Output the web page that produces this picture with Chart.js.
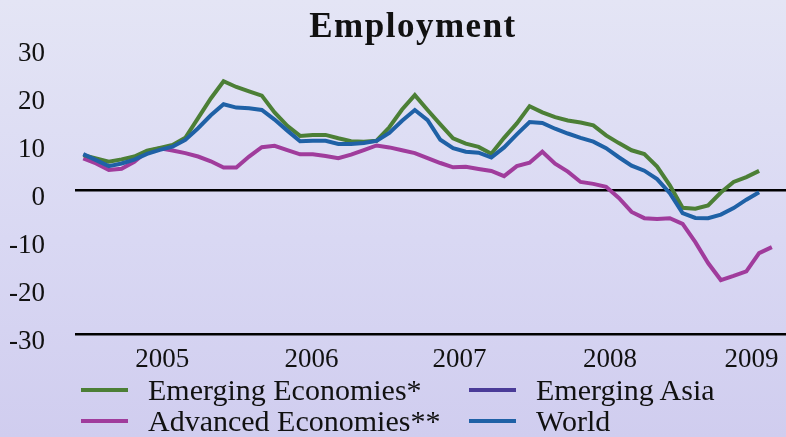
<!DOCTYPE html>
<html>
<head>
<meta charset="utf-8">
<title>Employment</title>
<script src="https://cdn.jsdelivr.net/npm/chart.js@4.4.1/dist/chart.umd.min.js"></script>
<style>
    html, body { margin: 0; padding: 0; }
    body {
        width: 786px; height: 437px; overflow: hidden; position: relative;
        background: linear-gradient(180deg, #e4e5f5 0%, #d9d8f3 55%, #d0cdef 100%);
        font-family: "Liberation Serif", "Times New Roman", serif;
        color: #000;
    }
    #chartBox { position: absolute; left: 0; top: 0; width: 786px; height: 437px; }
    #chartTitle {
        position: absolute; top: 8px; left: 413px; transform: translateX(-50%);
        white-space: nowrap; font-weight: bold; font-size: 35px; line-height: 35px;
        letter-spacing: 1.5px; color: #111;
    }
    #legend {
        position: absolute; left: 81px; top: 374px;
        display: grid; grid-template-columns: 388px auto;
        font-size: 30px; line-height: 31px; color: #111;
    }
    #legend .item { display: flex; align-items: center; white-space: nowrap; }
    #legend .swatch { width: 47px; height: 4px; margin-right: 20px; }
</style>
</head>
<body>
<div id="chartBox"><canvas id="employmentChart"></canvas></div>
<div id="chartTitle">Employment</div>
<div id="legend"></div>

<script>
// Monthly values (%), first point = Jan 2005
const emergingEconomies = [7.3, 6.6, 5.9, 6.4, 7.0, 8.2, 8.8, 9.4, 10.9, 15.0, 19.1, 22.7,
    21.5, 20.6, 19.7, 16.2, 13.4, 11.3, 11.5, 11.5, 10.8, 10.2, 10.1, 10.3,
    13.1, 16.8, 19.8, 16.7, 13.7, 10.8, 9.7, 9.0, 7.6, 10.9, 13.9, 17.5,
    16.2, 15.2, 14.5, 14.1, 13.5, 11.4, 9.8, 8.3, 7.5, 4.9, 1.0, -3.7,
    -3.9, -3.2, -0.5, 1.7, 2.7, 4.0];

const emergingAsia = []; // only shows up in the legend

const advancedEconomies = [6.6, 5.55, 4.2, 4.45, 5.9, 8.1, 8.7, 8.25, 7.7, 7.0, 6.0, 4.7,
    4.7, 7.0, 8.95, 9.25, 8.35, 7.45, 7.45, 7.1, 6.65, 7.4, 8.35, 9.3,
    8.9, 8.3, 7.7, 6.65, 5.65, 4.75, 4.85, 4.4, 4.0, 2.9, 5.0, 5.7,
    8.0, 5.5, 3.85, 1.7, 1.3, 0.7, -1.65, -4.55, -5.85, -6.0, -5.85, -7.05,
    -10.85, -15.2, -18.75, -17.9, -16.95, -13.15, -11.9];

const world = [7.5, 6.25, 5.0, 5.55, 6.35, 7.55, 8.4, 9.05, 10.45, 12.9, 15.6, 17.9,
    17.2, 17.05, 16.7, 14.7, 12.4, 10.2, 10.3, 10.3, 9.6, 9.6, 9.8, 10.25,
    11.9, 14.45, 16.7, 14.6, 10.5, 8.75, 8.0, 7.8, 6.8, 8.9, 11.6, 14.2,
    14.0, 12.8, 11.8, 10.9, 10.1, 8.75, 6.85, 5.1, 4.05, 2.3, -0.65, -4.8,
    -5.8, -5.85, -5.1, -3.75, -2.0, -0.45];

// Year labels and the month index each one sits at
const yearLabels = ['2005', '2006', '2007', '2008', '2009'];
const yearLabelAt = [6.2, 17.9, 29.5, 41.3, 52.4];

// Y range
const yMin = -30;
const yMax = 30;
const yStep = 10;

document.addEventListener('DOMContentLoaded', function() {
    const canvas = document.getElementById('employmentChart');
    const legendBox = document.getElementById('legend');

    // month index -> point
    const toPoints = arr => arr.map((v, i) => ({ x: i, y: v }));

    const serif = '"Liberation Serif", "Times New Roman", serif';

    const chart = new Chart(canvas, {
        type: 'line',
        data: {
            datasets: [
                { label: 'Emerging Economies*', data: toPoints(emergingEconomies), borderColor: '#4c7f36', order: 1 },
                { label: 'Emerging Asia', data: toPoints(emergingAsia), borderColor: '#4a3b98', order: 3 },
                { label: 'Advanced Economies**', data: toPoints(advancedEconomies), borderColor: '#a03c9c', order: 2 },
                { label: 'World', data: toPoints(world), borderColor: '#1f61a6', order: 0 }
            ]
        },
        options: {
            responsive: true,
            maintainAspectRatio: false,
            animation: false,
            layout: { padding: { top: 46, bottom: 63, left: 0, right: 0 } },
            elements: {
                line: { borderWidth: 4, tension: 0, fill: false },
                point: { radius: 0 }
            },
            scales: {
                x: {
                    type: 'linear',
                    min: -0.651,
                    max: 55.11,
                    grid: { display: false },
                    border: { display: false },
                    afterBuildTicks: function(scale) {
                        scale.ticks = yearLabelAt.map(v => ({ value: v }));
                    },
                    afterFit: function(scale) { scale.height = 40; },
                    ticks: {
                        autoSkip: false,
                        maxRotation: 0,
                        padding: 2,
                        color: '#111',
                        font: { family: serif, size: 27 },
                        callback: function(value, index) { return yearLabels[index]; }
                    }
                },
                y: {
                    min: yMin,
                    max: yMax,
                    border: { display: false },
                    grid: {
                        drawTicks: false,
                        lineWidth: 2.5,
                        // only the zero line and the bottom line are drawn
                        color: ctx => (ctx.tick && (ctx.tick.value === 0 || ctx.tick.value === yMin)) ? '#000' : 'rgba(0,0,0,0)'
                    },
                    afterFit: function(scale) { scale.width = 75; },
                    ticks: {
                        stepSize: yStep,
                        padding: 30,
                        labelOffset: 8,
                        color: '#111',
                        font: { family: serif, size: 27 }
                    }
                }
            },
            plugins: {
                legend: { display: false },
                title: { display: false },
                tooltip: { enabled: false }
            }
        }
    });

    // Legend in two columns, built from the datasets
    chart.data.datasets.forEach(function(ds) {
        const item = document.createElement('div');
        item.className = 'item';
        const swatch = document.createElement('span');
        swatch.className = 'swatch';
        swatch.style.background = ds.borderColor;
        const text = document.createElement('span');
        text.textContent = ds.label;
        item.appendChild(swatch);
        item.appendChild(text);
        legendBox.appendChild(item);
    });
});
</script>
</body>
</html>
